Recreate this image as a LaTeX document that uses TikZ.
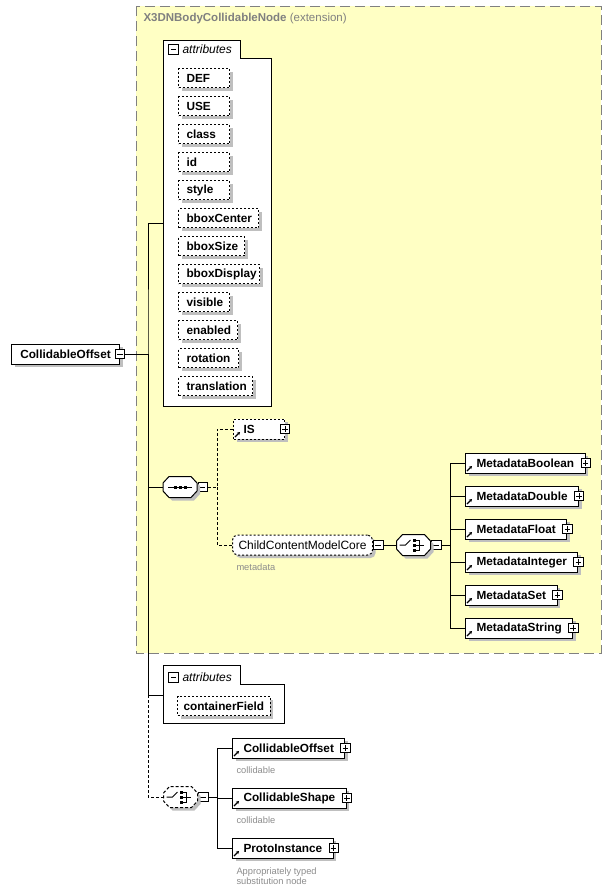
\documentclass[tikz,border=0pt]{standalone}
\usepackage{fontspec}
\setmainfont{Liberation Sans}
\usetikzlibrary{positioning,shadows,arrows.meta}
\definecolor{extfill}{RGB}{255,255,196}
\definecolor{capgray}{RGB}{140,140,140}
\newcommand\octo[2][]{%
  \begin{scope}[shift={(#2.center)}]
    \begin{scope}[shift={(3,3)}]
      \fill[black!25] (-17,-4) -- (-11,-10.5) -- (11,-10.5) -- (17,-4) -- (17,4) -- (11,10.5) -- (-11,10.5) -- (-17,4) -- cycle;
    \end{scope}
    \draw[fill=white, #1] (-17,-4) -- (-11,-10.5) -- (11,-10.5) -- (17,-4) -- (17,4) -- (11,10.5) -- (-11,10.5) -- (-17,4) -- cycle;
  \end{scope}}
\newcommand\seqmark[2][]{%
  \octo[#1]{#2}
  \begin{scope}[shift={(#2.center)}]
    \draw (-12,0) -- (12,0);
    \foreach \dx in {-5,0,5} \fill (\dx-1.5,-1.5) rectangle (\dx+1.5,1.5);
  \end{scope}}
\newcommand\choicemark[2][]{%
  \octo[#1]{#2}
  \begin{scope}[shift={(#2.center)}]
    \draw (-14,0) -- (-8,0) -- (-3,-5);
    \fill (-1,-6.5) rectangle (2,-3.5);
    \fill (-1,-1.5) rectangle (2,1.5);
    \fill (-1,3.5) rectangle (2,6.5);
    \draw (2,-5) -- (6,-5) -- (6,5) -- (2,5) (2,0) -- (10,0);
  \end{scope}}
\newcommand\refmark[1]{\draw[line width=1.2pt, -{Stealth[length=3pt,width=3.5pt]}] ([shift={(2pt,2.5pt)}]#1.south west) -- ++(5,-5);}

\begin{document}
\begin{tikzpicture}[x=1pt, y=-1pt, line width=1pt]
    \tikzstyle{elem} = [rectangle, draw, fill=white, anchor=west, inner xsep=11pt, inner ysep=0pt,
                        minimum height=20pt, font=\fontsize{11.8}{13}\selectfont\bfseries,
                        general shadow={fill=black!25, shadow xshift=3pt, shadow yshift=-3pt}]
    \tikzstyle{attr} = [elem, dash pattern=on 2pt off 2pt, inner xsep=8pt, minimum height=19pt]
    \tikzstyle{minus} = [rectangle, draw, fill=white, minimum size=9.5pt, inner sep=0pt, line width=0.8pt,
                         path picture={\draw ([xshift=2pt]path picture bounding box.west) -- ([xshift=-2pt]path picture bounding box.east);}]
    \tikzstyle{plus} = [minus, path picture={\draw ([xshift=2pt]path picture bounding box.west) -- ([xshift=-2pt]path picture bounding box.east);
                                              \draw ([yshift=-2pt]path picture bounding box.north) -- ([yshift=2pt]path picture bounding box.south);}]
    \tikzstyle{symb} = [rectangle, minimum width=34pt, minimum height=21pt, inner sep=0pt]
    \tikzstyle{grp} = [rectangle, rounded corners=5pt, draw, fill=white, anchor=west,
                       dash pattern=on 2pt off 2pt, inner xsep=6pt, inner ysep=0pt, minimum height=20pt,
                       font=\fontsize{12}{14}\selectfont,
                       general shadow={fill=black!25, shadow xshift=3pt, shadow yshift=-3pt}]
    \tikzstyle{grplabel} = [anchor=west, inner sep=0pt, font=\fontsize{12}{14}\selectfont\itshape]
    \tikzstyle{caption} = [anchor=west, inner sep=0pt, text=capgray, align=left,
                           font=\fontsize{9.3}{10.5}\selectfont]
    \tikzstyle{link} = [dash pattern=on 3pt off 2pt]
  \useasboundingbox (0,0) rectangle (612,894);
  % extension frame
  \draw[gray, fill=extfill, dash pattern=on 10pt off 5pt] (136,6) rectangle (601,653);
  \node[anchor=west, inner sep=0pt, text=gray, font=\fontsize{11.5}{13}\selectfont] (ext) at (143,19) {\textbf{X3DNBodyCollidableNode} (extension)};
  % attributes
  \draw[fill=white] (163,40) -- (240,40) -- (240,58) -- (271,58) -- (271,406) -- (163,406) -- cycle;
  \node[minus] (attm) at (173.5,49.5) {};
  \node[grplabel] (attl) at (182,49) {attributes};
  \coordinate (atts) at (163,223);
  \foreach \name/\w [count=\i from 0] in {DEF/35, USE/35, class/35, id/35, style/35, bboxCenter/64,
      bboxSize/50, bboxDisplay/65, visible/35, enabled/43, rotation/44, translation/58}
    \node[attr] (at\i) at (178,78+28*\i) {\makebox[\w pt][l]{\name}};
  % root
  \node[elem, inner xsep=8pt, minimum width=108pt] (root) at (11,354) {CollidableOffset};
  \node[minus] (rootm) at (root.east) {};
  \coordinate (trunk) at (148,354);
  % sequence
  \node[symb] (seq) at (180,487) {};
  \node[minus, right=0pt of seq] (seqm) {};
  \coordinate (seqj) at (217,487);
  \node[elem, dash pattern=on 2pt off 2pt, inner xsep=10pt] (is) at (233,429) {\makebox[31pt][l]{IS}};
  \node[plus] (isp) at (is.east) {};
  \node[grp] (ccmc) at (232,545) {ChildContentModelCore};
  \node[minus, right=0pt of ccmc] (ccmcm) {};
  \node[caption] (ccmcc) at (236,567) {metadata};
  % metadata choice
  \node[symb] (ch1) at (413.5,545) {};
  \node[minus, right=0pt of ch1] (ch1m) {};
  \coordinate (mj) at (450,545);
  \foreach \name [count=\i from 0] in {Boolean, Double, Float, Integer, Set, String} {
    \node[elem] (md\i) at (465,463+33*\i) {Metadata\name};
    \node[plus] (mdp\i) at (md\i.east) {};
    \refmark{md\i}
    \draw (mj) |- (md\i.west);
  }
  % containerField
  \draw[fill=white] (163,665) -- (240,665) -- (240,684) -- (284,684) -- (284,723) -- (163,723) -- cycle;
  \node[minus] (att2m) at (173.5,677.5) {};
  \node[grplabel] (att2l) at (182,677) {attributes};
  \coordinate (atts2) at (163,695);
  \node[attr, inner xsep=6pt] (cf) at (177,706) {containerField};
  % collidable choice
  \node[symb] (ch2) at (180.5,797) {};
  \node[minus, right=0pt of ch2] (ch2m) {};
  \coordinate (cj) at (217,797);
  \node[elem] (co) at (232,748) {CollidableOffset};
  \node[plus] (cop) at (co.east) {};
  \node[caption] (coc) at (236,770) {collidable};
  \node[elem] (cs) at (232,798) {CollidableShape};
  \node[plus] (csp) at (cs.east) {};
  \node[caption] (csc) at (236,820) {collidable};
  \node[elem] (pi) at (232,848) {ProtoInstance};
  \node[plus] (pip) at (pi.east) {};
  \node[caption] (pic) at (236,876) {Appropriately typed\\substitution node};
  % connectors
  \draw (rootm.east) -- (trunk);
  \draw (atts) -| (trunk) |- (seq.west);
  \draw (trunk) |- (atts2);
  \draw[link] (atts2 -| trunk) |- (ch2.west);
  \draw[link] (seqm.east) -- (seqj) |- (is.west);
  \draw[link] (seqj) |- (ccmc.west);
  \draw (ccmcm.east) -- (ch1.west);
  \draw (ch1m.east) -- (mj);
  \draw (ch2m.east) -- (cj) |- (co.west);
  \draw (cj) |- (cs.west);
  \draw (cj) |- (pi.west);
  % symbols
  \seqmark{seq}
  \choicemark{ch1}
  \choicemark[link]{ch2}
  \refmark{is}
  \refmark{co}
  \refmark{cs}
  \refmark{pi}
  \end{tikzpicture}
\end{document}
